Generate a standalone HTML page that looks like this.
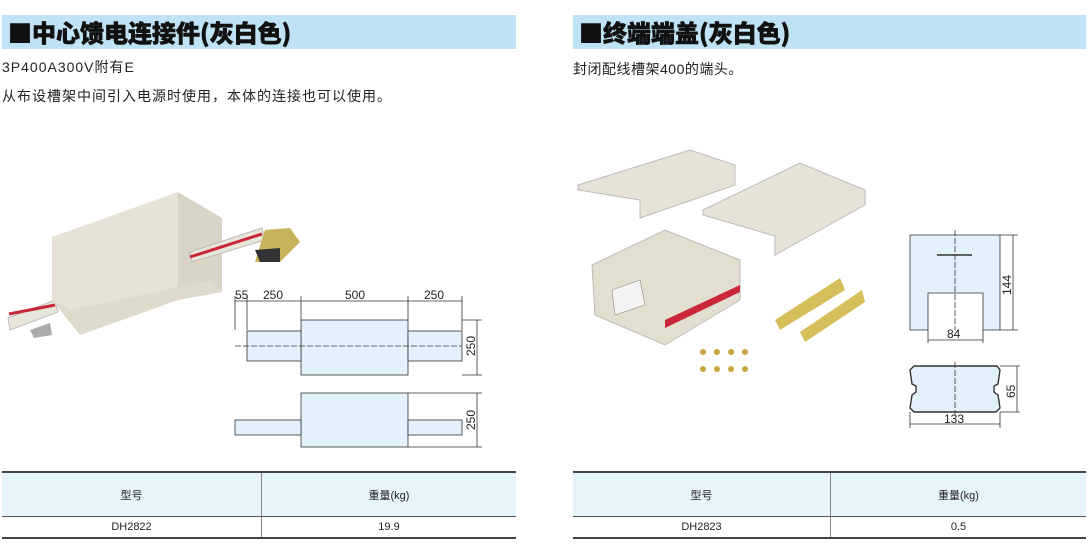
<!DOCTYPE html>
<html><head><meta charset="utf-8"><style>
body{margin:0;width:1090px;height:544px;background:#fff;position:relative;overflow:hidden;font-family:"Liberation Sans","Noto Sans CJK SC",sans-serif;}
.h{position:absolute;top:15px;height:34px;background:#bfe3f5;font-weight:900;font-size:24px;line-height:34px;padding-left:6px;box-sizing:border-box;color:#111;font-family:"Noto Sans CJK SC",sans-serif;-webkit-text-stroke:0.6px #111;}
.t{position:absolute;font-size:14px;color:#222;font-family:"Liberation Sans","Noto Sans CJK SC",sans-serif;letter-spacing:1px;}
table{position:absolute;top:471px;border-collapse:collapse;font-size:11px;color:#222;border-top:2px solid #444;border-bottom:2px solid #444;}
td{text-align:center;border-left:1px solid #888;padding:0;}
td:first-child{border-left:none}
tr.a td{background:#e6f4fb;height:43px;border-bottom:1px solid #555;}
tr.b td{height:20px;}
</style></head><body>
<div class="h" style="left:2px;width:514px">■中心馈电连接件(灰白色)</div>
<div class="h" style="left:573px;width:513px">■终端端盖(灰白色)</div>
<div class="t" style="left:2px;top:57px">3P400A300V附有E</div>
<div class="t" style="left:2px;top:86px">从布设槽架中间引入电源时使用，本体的连接也可以使用。</div>
<div class="t" style="left:573px;top:59px;letter-spacing:0.5px">封闭配线槽架400的端头。</div>

<svg width="1090" height="544" style="position:absolute;left:0;top:0" font-family="Liberation Sans,sans-serif" font-size="12">
<polygon points="8,318 55,300 58,312 10,330" fill="#e8e5da" stroke="#bbb"/>
<line x1="9" y1="314" x2="55" y2="305" stroke="#c8283a" stroke-width="3"/>
<polygon points="30,330 50,323 52,335 34,338" fill="#aaa"/>
<polygon points="52,237 178,192 178,300 80,335 52,300" fill="#e6e3d6"/>
<polygon points="178,192 222,218 222,292 178,300" fill="#d9d5c6"/>
<polygon points="52,300 80,335 178,300 222,292 212,280 70,310" fill="#dedacc"/>
<polygon points="190,252 262,228 265,240 192,262" fill="#e8e5da" stroke="#bbb"/>
<line x1="190" y1="257" x2="262" y2="234" stroke="#c8283a" stroke-width="3"/>
<polygon points="265,230 290,228 300,242 280,262 255,262" fill="#c9b35a"/>
<polygon points="255,250 280,248 280,262 260,262" fill="#333"/>
<g stroke="#333" stroke-width="0.8" fill="none">
<line x1="235" y1="301" x2="462" y2="301"/>
<line x1="235" y1="296" x2="235" y2="330"/><line x1="247" y1="296" x2="247" y2="330"/>
<line x1="301" y1="296" x2="301" y2="320"/><line x1="408" y1="296" x2="408" y2="320"/><line x1="462" y1="296" x2="462" y2="330"/>
<rect x="301" y="320" width="107" height="55" fill="#e3f1fb"/>
<rect x="247" y="331" width="54" height="30" fill="#e3f1fb"/>
<rect x="408" y="331" width="54" height="30" fill="#e3f1fb"/>
<line x1="235" y1="346" x2="462" y2="346" stroke-dasharray="6 2"/>
<line x1="462" y1="320" x2="482" y2="320"/><line x1="462" y1="375" x2="482" y2="375"/>
<line x1="477" y1="320" x2="477" y2="375"/>
<rect x="301" y="393" width="107" height="54" fill="#e3f1fb"/>
<rect x="235" y="420" width="66" height="15" fill="#e3f1fb"/>
<rect x="408" y="420" width="54" height="15" fill="#e3f1fb"/>
<line x1="408" y1="393" x2="482" y2="393"/><line x1="408" y1="447" x2="482" y2="447"/>
<line x1="477" y1="393" x2="477" y2="447"/>
</g>
<g fill="#222">
<text x="235" y="299">55</text><text x="263" y="299">250</text><text x="345" y="299">500</text><text x="424" y="299">250</text>
<text transform="translate(475,356) rotate(-90)">250</text>
<text transform="translate(475,430) rotate(-90)">250</text>
</g>
<polygon points="578,185 690,150 735,165 735,185 640,218 640,200 578,190" fill="#e6e3d6" stroke="#bbb"/>
<polygon points="703,210 800,163 865,190 865,205 775,255 775,236 703,215" fill="#e6e3d6" stroke="#bbb"/>
<polygon points="592,265 665,230 740,260 740,300 665,345 595,315" fill="#e3dfd0" stroke="#bbb"/>
<polygon points="665,320 740,285 740,292 665,328" fill="#c8283a"/>
<polygon points="612,290 640,280 645,305 615,315" fill="#f4f4f4" stroke="#777" stroke-width=".5"/>
<polygon points="775,320 840,278 845,290 780,330" fill="#d6bf5a"/>
<polygon points="800,332 862,290 865,302 805,342" fill="#d6bf5a"/>
<g fill="#c9a640"><circle cx="703" cy="352" r="3"/><circle cx="717" cy="352" r="3"/><circle cx="731" cy="352" r="3"/><circle cx="745" cy="352" r="3"/><circle cx="703" cy="369" r="3"/><circle cx="717" cy="369" r="3"/><circle cx="731" cy="369" r="3"/><circle cx="745" cy="369" r="3"/></g>
<g stroke="#333" stroke-width="0.8" fill="none">
<path d="M910,235 H1000 V330 H983 V293 H928 V330 H910 Z" fill="#e3f1fb"/>
<line x1="955" y1="230" x2="955" y2="330" stroke-dasharray="6 2"/>
<line x1="937" y1="255" x2="972" y2="255" stroke-width="1.5"/>
<line x1="1000" y1="235" x2="1018" y2="235"/><line x1="1000" y1="330" x2="1018" y2="330"/>
<line x1="1013" y1="235" x2="1013" y2="330"/>
<line x1="928" y1="330" x2="928" y2="343"/><line x1="983" y1="330" x2="983" y2="343"/>
<line x1="928" y1="340" x2="983" y2="340"/>
<path d="M914,366 H997 L1000,370 L998,384 L994,386 V392 L998,395 L1000,408 L996,412 H914 L910,408 L912,395 L916,392 V386 L912,384 L910,370 Z" fill="#e3f1fb" stroke-width="1.4"/>
<line x1="955" y1="362" x2="955" y2="415" stroke-dasharray="6 2"/>
<line x1="1000" y1="366" x2="1020" y2="366"/><line x1="1000" y1="412" x2="1020" y2="412"/>
<line x1="1017" y1="366" x2="1017" y2="412"/>
<line x1="910" y1="412" x2="910" y2="428"/><line x1="1000" y1="412" x2="1000" y2="428"/>
<line x1="910" y1="424" x2="1000" y2="424"/>
</g>
<g fill="#222">
<text transform="translate(1011,295) rotate(-90)">144</text>
<text x="947" y="338">84</text>
<text transform="translate(1015,398) rotate(-90)">65</text>
<text x="944" y="423">133</text>
</g>
</svg>

<table style="left:2px;width:514px"><tr class="a"><td style="width:259px">型号</td><td>重量(kg)</td></tr><tr class="b"><td>DH2822</td><td>19.9</td></tr></table>
<table style="left:573px;width:513px"><tr class="a"><td style="width:257px">型号</td><td>重量(kg)</td></tr><tr class="b"><td>DH2823</td><td>0.5</td></tr></table>
</body></html>
